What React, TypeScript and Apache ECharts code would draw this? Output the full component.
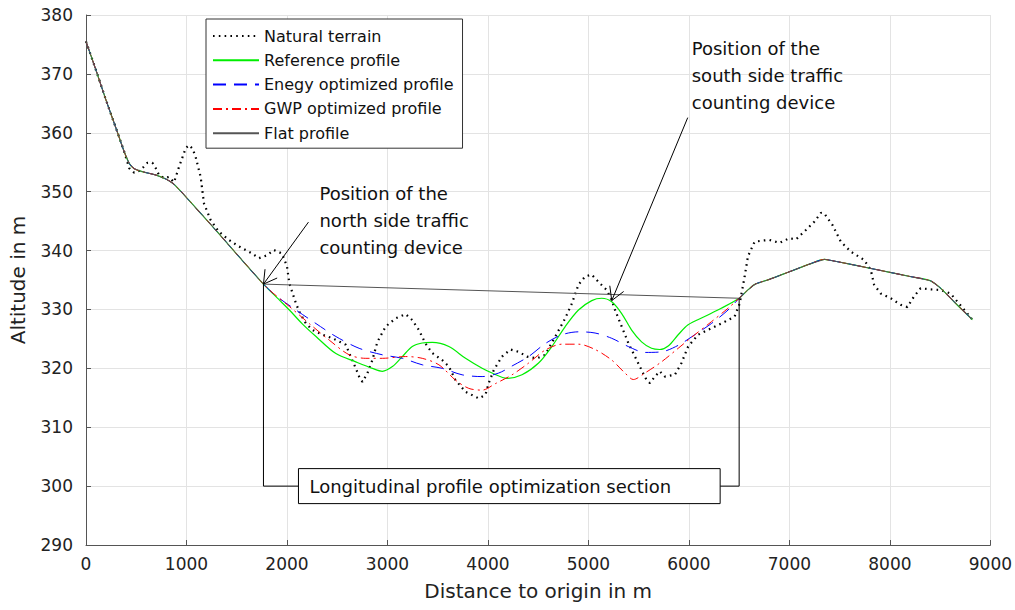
import React, { useEffect, useRef } from "react";
import * as echarts from "echarts";

// ---- data (distance in m, altitude in m) ----
const approachPart: number[][] = [
  [0, 375.5], [100, 370.6], [200, 365.5], [300, 360.7], [380, 356.8], [430, 354.8], [480, 353.9],
  [560, 353.4], [700, 352.8], [800, 352.1], [880, 351.2], [1100, 347.1], [1300, 343.3],
  [1500, 339.4], [1766, 334.3],
];
const exitPart: number[][] = [
  [6500, 331.9], [6580, 333.2], [6660, 334.3], [6800, 335.1], [7000, 336.4], [7200, 337.7],
  [7350, 338.5], [7390, 338.4], [7600, 337.7], [7800, 337], [8000, 336.3], [8200, 335.6],
  [8400, 334.9], [8470, 334.1], [8530, 333.2], [8650, 331.1], [8820, 328.3],
];
const terrain: number[][] = [
  [0, 375.5], [100, 370.6], [200, 365.5], [300, 360.7], [380, 356.8], [430, 354], [480, 353.2], [540, 353.6],
  [612, 354.9], [661, 354.9], [694, 354], [727, 352.8], [780, 352.3], [826, 352.5], [876, 351.6],
  [926, 354.2], [992, 357.4], [1025, 357.9], [1060, 357.3], [1091, 355.9], [1141, 352.5],
  [1174, 348], [1240, 345.2], [1322, 343.2], [1422, 341.8], [1521, 340.7], [1653, 339.5],
  [1720, 338.7], [1802, 339.2], [1868, 340.1], [1951, 339.5], [2000, 337.3], [2024, 334.4],
  [2057, 332.7], [2090, 331], [2123, 329.6], [2189, 327.6], [2255, 326.5], [2354, 325.7],
  [2453, 325.1], [2586, 324], [2619, 322.6], [2685, 320], [2718, 318.6], [2751, 317.7],
  [2801, 319.2], [2850, 321.4], [2900, 324.5], [2982, 327.1], [3082, 328.5], [3181, 329.2],
  [3247, 328.2], [3313, 326.5], [3379, 324.2], [3445, 322.6], [3545, 321.4], [3611, 320.3],
  [3677, 318], [3777, 316], [3909, 314.9], [3975, 315.5], [4008, 317.5], [4058, 319.7],
  [4140, 322], [4223, 323.2], [4306, 322.8], [4388, 322], [4487, 321.7], [4570, 322.3],
  [4670, 325.4], [4769, 328.5], [4835, 331], [4901, 334.2], [4967, 335.6], [5033, 335.9],
  [5116, 334.4], [5182, 333.3], [5232, 331.6], [5265, 329.9], [5331, 327.1], [5397, 324.3],
  [5463, 322], [5529, 319.7], [5579, 318], [5612, 317.5], [5661, 318.6], [5710, 319.5],
  [5760, 318.6], [5860, 318.9], [5926, 320.9], [5992, 323.7], [6091, 325.7], [6223, 326.8],
  [6356, 327.9], [6455, 328.8], [6505, 331], [6554, 335.5], [6587, 339], [6654, 341.5],
  [6736, 341.7], [6802, 341.8], [6901, 341.3], [7000, 342.1], [7066, 341.9], [7165, 343.5],
  [7248, 344.9], [7314, 346.4], [7347, 346.3], [7430, 344.3], [7512, 341.5], [7612, 339.8],
  [7744, 338.4], [7810, 336.7], [7843, 334.2], [7909, 332.7], [8008, 331.9], [8107, 330.8],
  [8174, 330.4], [8240, 332.2], [8306, 333.6], [8406, 333.4], [8505, 333.3], [8604, 332.7],
  [8820, 328.3],
];
const referenceSection: number[][] = [
  [1766, 334.3], [1900, 332], [2024, 329.9], [2150, 327.6], [2289, 325.4], [2487, 322.5],
  [2685, 321.1], [2850, 320], [2949, 319.5], [3049, 320.3], [3148, 322], [3247, 323.7],
  [3345, 324.3], [3445, 324.4], [3611, 323.7], [3777, 321.7], [3942, 320], [4041, 319.2],
  [4190, 318.3], [4339, 318.9], [4504, 320.9], [4636, 323.7], [4769, 327.1], [4901, 329.9],
  [5033, 331.5], [5132, 331.9], [5232, 331.3], [5331, 329.3], [5430, 326.5], [5529, 324.5],
  [5628, 323.4], [5711, 323.2], [5794, 323.8], [5893, 325.7], [5992, 327.4], [6157, 328.8],
  [6322, 330.2], [6500, 331.9],
];
const energySection: number[][] = [
  [1766, 334.3], [1900, 332.2], [2090, 329.9], [2289, 327.6], [2487, 325.4], [2718, 323.4],
  [2949, 322.3], [3148, 321.7], [3346, 320.6], [3545, 320], [3743, 318.9], [3942, 318.6],
  [4107, 319.2], [4240, 320.4], [4405, 322], [4570, 324.2], [4736, 325.7], [4901, 326.2],
  [5066, 326], [5232, 325.1], [5397, 323.7], [5562, 322.7], [5727, 322.8], [5893, 323.9],
  [6058, 325.7], [6223, 327.6], [6389, 329.9], [6500, 331.9],
];
const gwpSection: number[][] = [
  [1766, 334.3], [1825, 333.3], [2024, 330.5], [2222, 327.6], [2420, 324.8], [2619, 322.3],
  [2784, 321.7], [2949, 321.7], [3181, 322], [3346, 321.7], [3512, 320.6], [3677, 318],
  [3809, 316.6], [3942, 316.3], [4074, 317.4], [4240, 318.9], [4405, 320.9], [4570, 323.1],
  [4736, 324.1], [4901, 324.1], [5066, 323.2], [5232, 321.4], [5364, 319.2], [5447, 318.1],
  [5562, 319.2], [5727, 321.1], [5893, 323.4], [6058, 325.7], [6223, 327.9], [6389, 330.2],
  [6500, 331.9],
];
const flatSection: number[][] = [[1766, 334.3], [6500, 331.9]];

const seriesNames = [
  "Natural terrain",
  "Reference profile",
  "Enegy optimized profile",
  "GWP optimized profile",
  "Flat profile",
];
const northDevice = [1766, 334.3];
const southDevice = [5232, 331.5];
const sectionEnd = [6500, 331.9];
const bracketLevel = 300;
const northLabel = ["Position of the", "north side traffic", "counting device"];
const southLabel = ["Position of the", "south side traffic", "counting device"];
const sectionLabel = "Longitudinal profile optimization section";
const xMin = 0, xMax = 9000, xStep = 1000;
const yMin = 290, yMax = 380, yStep = 10;

const FONT = "DejaVu Sans";

const full = (section: number[][]) => [
  ...approachPart,
  ...section.slice(1, -1),
  ...exitPart,
];

export default function App() {
  const ref = useRef<HTMLDivElement>(null);
  useEffect(() => {
    if (!ref.current) return;
    const chart = echarts.init(ref.current, undefined, { renderer: "svg" });
    const noSymbol = { color: "transparent", borderWidth: 0 };
    const option: any = {
      animation: false,
      backgroundColor: "#fff",
      grid: { left: 86, right: 22, top: 15, bottom: 65, containLabel: false },
      legend: {
        orient: "vertical",
        left: 206,
        top: 19,
        data: seriesNames,
        itemWidth: 46,
        itemHeight: 14,
        itemGap: 8.3,
        padding: [9, 9, 7, 6],
        backgroundColor: "#fff",
        borderColor: "#333",
        borderWidth: 1,
        borderRadius: 0,
        selectedMode: false,
        textStyle: { fontFamily: FONT, fontSize: 16, color: "#111", lineHeight: 16 },
      },
      xAxis: {
        type: "value",
        min: xMin,
        max: xMax,
        interval: xStep,
        name: "Distance to origin in m",
        nameLocation: "middle",
        nameGap: 36,
        nameTextStyle: { fontFamily: FONT, fontSize: 20, color: "#222" },
        axisLine: { show: true, lineStyle: { color: "#555", width: 1 } },
        axisTick: { show: true, inside: true, length: 5, lineStyle: { color: "#555" } },
        axisLabel: {
          fontFamily: FONT, fontSize: 17, color: "#222", margin: 10,
          formatter: (v: number) => String(v),
        },
        splitLine: { show: true, lineStyle: { color: "#e3e3e3", width: 1 } },
      },
      yAxis: {
        type: "value",
        min: yMin,
        max: yMax,
        interval: yStep,
        name: "Altitude in m",
        nameLocation: "middle",
        nameGap: 58,
        nameTextStyle: { fontFamily: FONT, fontSize: 20, color: "#222" },
        axisLine: { show: true, lineStyle: { color: "#555", width: 1 } },
        axisTick: { show: true, inside: true, length: 5, lineStyle: { color: "#555" } },
        axisLabel: {
          fontFamily: FONT, fontSize: 17, color: "#222", margin: 13,
          formatter: (v: number) => String(v),
        },
        splitLine: { show: true, lineStyle: { color: "#e3e3e3", width: 1 } },
      },
      series: [
        {
          name: seriesNames[0],
          type: "line",
          data: terrain,
          symbol: "none",
          smooth: false,
          lineStyle: { color: "#000", width: 2.2, type: [1.6, 4.2], cap: "butt" },
          itemStyle: noSymbol,
          z: 2,
        },
        {
          name: seriesNames[1],
          type: "line",
          data: full(referenceSection),
          symbol: "none",
          smooth: 0.3,
          lineStyle: { color: "#00ee00", width: 1.2 },
          itemStyle: noSymbol,
          z: 3,
        },
        {
          name: seriesNames[2],
          type: "line",
          data: full(energySection),
          symbol: "none",
          smooth: 0.3,
          lineStyle: { color: "#0000ff", width: 1, type: [13, 8] },
          itemStyle: noSymbol,
          z: 4,
        },
        {
          name: seriesNames[3],
          type: "line",
          data: full(gwpSection),
          symbol: "none",
          smooth: 0.3,
          lineStyle: { color: "#ff0000", width: 1, type: [9, 4, 2, 4] },
          itemStyle: noSymbol,
          z: 5,
        },
        {
          name: seriesNames[4],
          type: "line",
          data: full(flatSection),
          symbol: "none",
          smooth: false,
          lineStyle: { color: "#555", width: 1 },
          itemStyle: noSymbol,
          z: 6,
        },
      ],
    };
    chart.setOption(option);

    const px = (p: number[]) => chart.convertToPixel({ gridIndex: 0 }, p) as number[];
    const nTip = px(northDevice);
    const sTip = px(southDevice);
    const eTip = px(sectionEnd);
    const levelY = px([0, bracketLevel])[1];
    const endLevel = px([sectionEnd[0], bracketLevel]);
    const nLevel = px([northDevice[0], bracketLevel]);

    const line = (x1: number, y1: number, x2: number, y2: number) => ({
      type: "line",
      z: 100,
      shape: { x1, y1, x2, y2 },
      style: { stroke: "#000", lineWidth: 1 },
    });
    const arrow = (tail: number[], tip: number[]) => {
      const ang = Math.atan2(tail[1] - tip[1], tail[0] - tip[0]);
      const len = 15;
      const a = (30 * Math.PI) / 180;
      return [
        line(tail[0], tail[1], tip[0], tip[1]),
        line(tip[0], tip[1], tip[0] + len * Math.cos(ang + a), tip[1] + len * Math.sin(ang + a)),
        line(tip[0], tip[1], tip[0] + len * Math.cos(ang - a), tip[1] + len * Math.sin(ang - a)),
      ];
    };
    const boxLeft = nTip[0] + 35;
    const boxRight = eTip[0] - 19;
    const boxH = 35;

    chart.setOption({
      graphic: [
        ...arrow([nTip[0] + 45, nTip[1] - 62], nTip),
        ...arrow([sTip[0] + 76, sTip[1] - 183], sTip),
        {
          type: "text",
          z: 100,
          x: nTip[0] + 56,
          y: nTip[1] - 104.5,
          style: {
            text: northLabel.join("\n"),
            fontFamily: FONT,
            fontSize: 18,
            lineHeight: 27,
            fill: "#111",
            verticalAlign: "top",
          },
        },
        {
          type: "text",
          z: 100,
          x: sTip[0] + 80,
          y: sTip[1] - 265.5,
          style: {
            text: southLabel.join("\n"),
            fontFamily: FONT,
            fontSize: 18,
            lineHeight: 27,
            fill: "#111",
            verticalAlign: "top",
          },
        },
        line(nTip[0], nTip[1], nLevel[0], nLevel[1]),
        line(nLevel[0], levelY, boxLeft, levelY),
        line(eTip[0], eTip[1], endLevel[0], endLevel[1]),
        line(endLevel[0], levelY, boxRight, levelY),
        {
          type: "rect",
          z: 100,
          shape: { x: boxLeft, y: levelY - boxH / 2, width: boxRight - boxLeft, height: boxH },
          style: { fill: "#fff", stroke: "#000", lineWidth: 1 },
        },
        {
          type: "text",
          z: 101,
          x: boxLeft + 11,
          y: levelY,
          style: {
            text: sectionLabel,
            fontFamily: FONT,
            fontSize: 18,
            fill: "#111",
            verticalAlign: "middle",
          },
        },
      ],
    });
    return () => chart.dispose();
  }, []);
  return (
    <div
      ref={ref}
      style={{ position: "fixed", left: 0, top: 0, width: 1015, height: 610 }}
    />
  );
}
